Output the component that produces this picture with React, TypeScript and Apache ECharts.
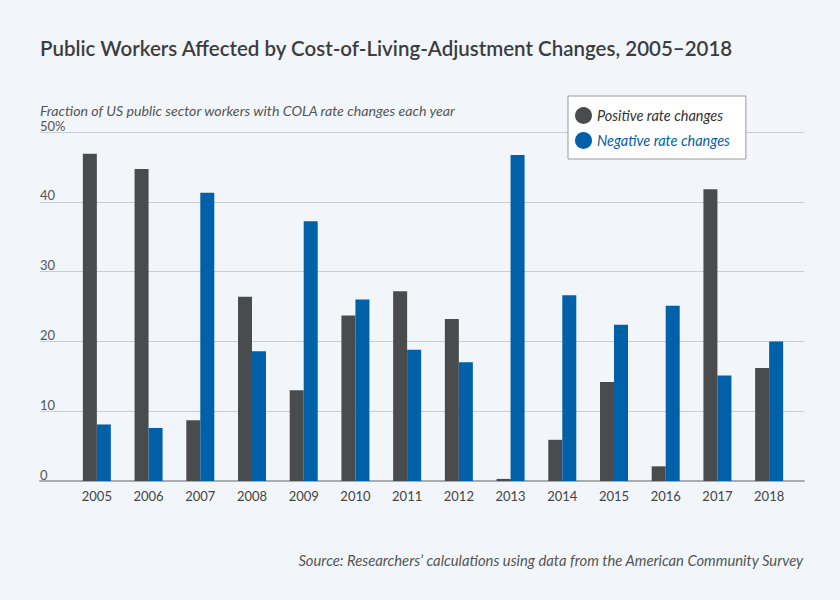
import React, { useEffect, useRef } from "react";
import * as echarts from "echarts";

const years = ["2005","2006","2007","2008","2009","2010","2011","2012","2013","2014","2015","2016","2017","2018"];
const positive = [46.9, 44.7, 8.7, 26.4, 13.0, 23.7, 27.2, 23.2, 0.3, 5.9, 14.2, 2.1, 41.8, 16.2];
const negative = [8.1, 7.6, 41.3, 18.6, 37.2, 26.0, 18.8, 17.0, 46.7, 26.6, 22.4, 25.1, 15.1, 20.0];
const yTicks = [0, 10, 20, 30, 40, 50];

const FONT = "Lato, 'Open Sans', sans-serif";
const DARK = "#4a4b4d";
const BLUE = "#0061a8";

export default function App() {
  const ref = useRef<HTMLDivElement>(null);
  useEffect(() => {
    document.body.style.margin = "0";
    if (!ref.current) return;
    const chart = echarts.init(ref.current, undefined, { renderer: "svg" });
    const top = 132;
    const height = 349;
    chart.setOption({
      animation: false,
      backgroundColor: "#f2f6fa",
      textStyle: { fontFamily: FONT },
      title: [
        {
          text: "Public Workers Affected by Cost-of-Living-Adjustment Changes, 2005–2018",
          left: 35,
          top: 32,
          textStyle: { fontFamily: FONT, fontSize: 20.5, fontWeight: 600, color: "#3d3d3f" },
        },
        {
          text: "Fraction of US public sector workers with COLA rate changes each year",
          left: 35,
          top: 98,
          textStyle: { fontFamily: FONT, fontSize: 14.2, fontStyle: "italic", fontWeight: "normal", color: "#555" },
        },
        {
          text: "Source: Researchers’ calculations using data from the American Community Survey",
          right: 31,
          top: 547,
          textStyle: { fontFamily: FONT, fontSize: 14.8, fontStyle: "italic", fontWeight: "normal", color: "#555" },
        },
      ],
      legend: {
        orient: "vertical",
        left: 568,
        top: 96,
        backgroundColor: "#ffffff",
        borderColor: "#9a9a9a",
        borderWidth: 1,
        borderRadius: 0,
        padding: [11, 16, 10, 7],
        itemGap: 8,
        icon: "circle",
        itemWidth: 17,
        itemHeight: 17,
        textStyle: { fontFamily: FONT, fontSize: 14.5, fontStyle: "italic", color: "#333" },
        data: [
          { name: "Positive rate changes", textStyle: { color: "#333" } },
          { name: "Negative rate changes", textStyle: { color: BLUE } },
        ],
      },
      grid: [
        { left: 71, width: 724, top, height },
        { left: 40, width: 764, top, height },
      ],
      xAxis: [
        {
          gridIndex: 0,
          type: "category",
          data: years,
          axisLine: { show: false },
          axisTick: { show: false },
          axisLabel: { color: "#444", fontSize: 13, fontFamily: FONT, margin: 8 },
        },
        {
          gridIndex: 1,
          type: "value",
          min: 0,
          max: 1,
          axisLine: { show: true, onZero: false, lineStyle: { color: "#a8acb0", width: 2 } },
          axisTick: { show: false },
          axisLabel: { show: false },
          splitLine: { show: false },
        },
      ],
      yAxis: [
        {
          gridIndex: 0,
          type: "value",
          min: 0,
          max: 50,
          interval: 10,
          show: false,
          splitLine: { show: false },
        },
        {
          gridIndex: 1,
          type: "value",
          min: yTicks[0],
          max: yTicks[yTicks.length - 1],
          interval: 10,
          axisLine: { show: false },
          axisTick: { show: false },
          splitLine: { show: true, lineStyle: { color: "#c9cdd2", width: 1 } },
          axisLabel: {
            inside: true,
            margin: 0,
            verticalAlign: "bottom",
            align: "left",
            color: "#555",
            fontSize: 13,
            fontFamily: FONT,
            formatter: (v: number) => (v === 50 ? "50%" : String(v)),
          },
        },
      ],
      series: [
        {
          name: "Positive rate changes",
          type: "bar",
          xAxisIndex: 0,
          yAxisIndex: 0,
          data: positive,
          barWidth: 14,
          barGap: "0%",
          itemStyle: { color: DARK },
          z: 3,
        },
        {
          name: "Negative rate changes",
          type: "bar",
          xAxisIndex: 0,
          yAxisIndex: 0,
          data: negative,
          barWidth: 14,
          barGap: "0%",
          itemStyle: { color: BLUE },
          z: 3,
        },
      ],
    });
    return () => chart.dispose();
  }, []);
  return <div ref={ref} style={{ width: 840, height: 600 }} />;
}
